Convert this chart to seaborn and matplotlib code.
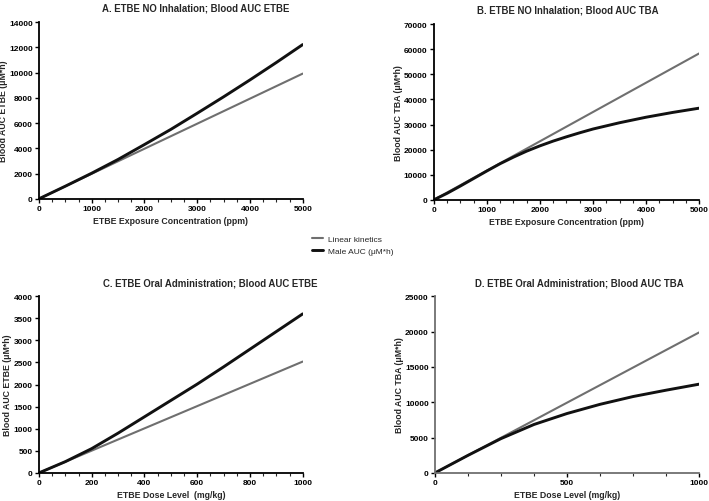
import numpy as np
import pandas as pd
import matplotlib.pyplot as plt
import seaborn as sns
from matplotlib.ticker import MultipleLocator

sns.set_style("ticks")
plt.rcParams['font.family'] = ['Liberation Sans', 'DejaVu Sans']
plt.rcParams['font.weight'] = 'bold'

# =========================
# DADES (llegides del gràfic)
# =========================
# A. inhalació, AUC ETBE
conc_a = [0, 500, 1000, 1500, 2000, 2500, 3000, 3500, 4000, 4500, 5000]
male_a = [0, 1000, 2030, 3120, 4300, 5500, 6780, 8080, 9420, 10800, 12220]
lin_x_a = [0, 5000]
lin_a = [0, 9920]

# B. inhalació, AUC TBA
conc_b = [0, 250, 500, 750, 1000, 1250, 1500, 1750, 2000, 2250, 2500,
          2750, 3000, 3500, 4000, 4500, 5000]
male_b = [0, 2600, 5500, 8500, 11500, 14400, 17000, 19400, 21500, 23400,
          25100, 26700, 28200, 30700, 32900, 34800, 36500]
lin_x_b = [0, 5000]
lin_b = [0, 58300]

# C. oral, AUC ETBE
dose_c = [0, 100, 200, 300, 400, 500, 600, 700, 800, 900, 1000]
male_c = [0, 255, 550, 900, 1270, 1640, 2010, 2400, 2800, 3200, 3600]
lin_x_c = [0, 1000]
lin_c = [0, 2520]

# D. oral, AUC TBA
dose_d = [0, 125, 250, 375, 500, 625, 750, 875, 1000]
male_d = [0, 2480, 4850, 6850, 8400, 9700, 10800, 11700, 12550]
lin_x_d = [0, 1000]
lin_d = [0, 19870]

GRIS = '#6f6f6f'
NEGRE = '#111111'

fig = plt.figure(figsize=(7.09, 5.02), dpi=100)

panells = [
    # posició, titol, x titol, xlabel, ylabel, x, male, linx, lin,
    # xmax, ymax, major x, minor x, major y, color eixos
    ([0.055, 0.602, 0.372, 0.352], "A. ETBE NO Inhalation; Blood AUC ETBE", 0.595,
     "ETBE Exposure Concentration (ppm)", "Blood AUC ETBE (\u03bcM*h)",
     conc_a, male_a, lin_x_a, lin_a, 5000, 14000, 1000, 250, 2000, 'black'),
    ([0.612, 0.600, 0.374, 0.350], "B. ETBE NO Inhalation; Blood AUC TBA", 0.506,
     "ETBE Exposure Concentration (ppm)", "Blood AUC TBA (\u03bcM*h)",
     conc_b, male_b, lin_x_b, lin_b, 5000, 70000, 1000, 250, 10000, 'black'),
    ([0.055, 0.056, 0.372, 0.352], "C. ETBE Oral Administration; Blood AUC ETBE", 0.648,
     "ETBE Dose Level  (mg/kg)", "Blood AUC ETBE (\u03bcM*h)",
     dose_c, male_c, lin_x_c, lin_c, 1000, 4000, 200, 50, 500, 'black'),
    ([0.6135, 0.056, 0.3725, 0.352], "D. ETBE Oral Administration; Blood AUC TBA", 0.545,
     "ETBE Dose Level (mg/kg)", "Blood AUC TBA (\u03bcM*h)",
     dose_d, male_d, lin_x_d, lin_d, 1000, 25000, 500, 125, 5000, '#707070'),
]

for (pos, titol, tx, xl, yl, x, male, linx, lin, xmax, ymax,
     mx, mnx, my, col_eix) in panells:
    ax = fig.add_axes(pos)
    sns.lineplot(x=linx, y=lin, ax=ax, color=GRIS, lw=1.5,
                 label="Linear kinetics")
    sns.lineplot(x=x, y=male, ax=ax, color=NEGRE, lw=2.1,
                 label="Male AUC (\u03bcM*h)")
    ax.set_xlim(0, xmax)
    ax.set_ylim(0, ymax)
    ax.xaxis.set_major_locator(MultipleLocator(mx))
    ax.xaxis.set_minor_locator(MultipleLocator(mnx))
    ax.yaxis.set_major_locator(MultipleLocator(my))
    ax.set_title(titol, fontsize=6.9, fontweight='bold', pad=8, x=tx)
    ax.set_xlabel(xl, fontsize=6.3, fontweight='bold', labelpad=3)
    ax.set_ylabel(yl, fontsize=6.3, fontweight='bold', labelpad=1)
    ax.tick_params(axis='both', labelsize=6, width=1.0, length=3,
                   pad=1.5, colors='black')
    ax.tick_params(axis='x', which='minor', width=0.8, length=2)
    for lab in ax.get_xticklabels() + ax.get_yticklabels():
        lab.set_fontweight('bold')
    for s in ['left', 'bottom']:
        ax.spines[s].set_linewidth(1.3)
        ax.spines[s].set_color(col_eix)
    sns.despine(ax=ax)
    ax.get_legend().remove()
    ax.margins(0)

# llegenda comuna al centre
h, l = ax.get_legend_handles_labels()
fig.legend(h, l, loc='center', bbox_to_anchor=(0.497, 0.509), frameon=False,
           handlelength=1.3, handletextpad=0.6, labelspacing=0.5,
           prop={'size': 6, 'weight': 'normal'})

fig.savefig("out.png", dpi=100)
